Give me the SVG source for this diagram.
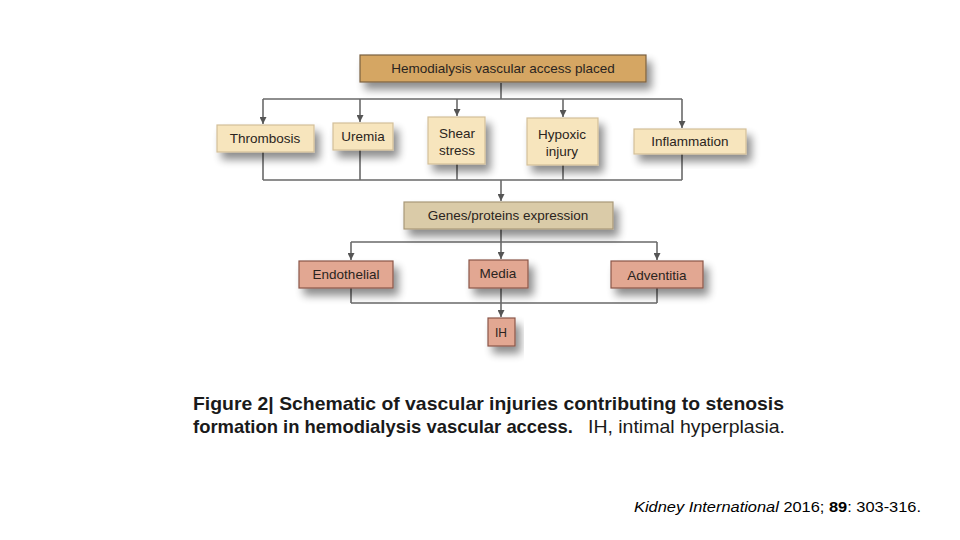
<svg xmlns="http://www.w3.org/2000/svg" width="960" height="540" viewBox="0 0 960 540">
<defs>
<filter id="sh" x="-30%" y="-40%" width="160%" height="200%">
<feGaussianBlur in="SourceAlpha" stdDeviation="4"/>
<feOffset dx="5" dy="7" result="b"/>
<feComponentTransfer><feFuncA type="linear" slope="0.45"/></feComponentTransfer>
<feMerge><feMergeNode/><feMergeNode in="SourceGraphic"/></feMerge>
</filter>
<marker id="ar" markerUnits="userSpaceOnUse" markerWidth="7" markerHeight="7" refX="3" refY="6" orient="0" viewBox="0 0 6 6">
<path d="M0,0 L6,0 L3,6 Z" fill="#555"/>
</marker>
</defs>
<style>
.l1{fill:#d5a664;stroke:#7a6040;stroke-width:1.2}
.l2{fill:#f7e5bd;stroke:#d2bf98;stroke-width:1.2}
.l3{fill:#dacba8;stroke:#a89878;stroke-width:1.2}
.l4{fill:#e2a792;stroke:#8a5548;stroke-width:1.2}
.t{font-family:"Liberation Sans",Arial,sans-serif;font-size:13.5px;fill:#2a2420;text-anchor:middle}
.c{fill:none;stroke:#6a6a6a;stroke-width:1.6}
.cap{font-family:"Liberation Sans",Arial,sans-serif;font-size:18.5px;fill:#1a1a1a}
</style>
<rect width="960" height="540" fill="#ffffff"/>
<g id="connectors">
<path class="c" d="M501,83 V99 M263,99 H682"/>
<path class="c" d="M263,99 V124" marker-end="url(#ar)"/>
<path class="c" d="M360,99 V122" marker-end="url(#ar)"/>
<path class="c" d="M457,99 V116" marker-end="url(#ar)"/>
<path class="c" d="M563,99 V117" marker-end="url(#ar)"/>
<path class="c" d="M682,99 V128" marker-end="url(#ar)"/>
<path class="c" d="M263,152 V180 M360,150 V180 M457,164 V180 M563,165 V180 M682,154 V180 M263,180 H682"/>
<path class="c" d="M501,180 V201" marker-end="url(#ar)"/>
<path class="c" d="M501,229 V242 M351,242 H657"/>
<path class="c" d="M351,242 V260" marker-end="url(#ar)"/>
<path class="c" d="M501,242 V259" marker-end="url(#ar)"/>
<path class="c" d="M657,242 V260" marker-end="url(#ar)"/>
<path class="c" d="M351,288 V303 M657,288 V303 M351,303 H657"/>
<path class="c" d="M501,288 V317" marker-end="url(#ar)"/>
</g>
<g id="n-access"><rect class="l1" x="360" y="55" width="286" height="27" filter="url(#sh)"/><text class="t" x="503" y="73">Hemodialysis vascular access placed</text></g>
<g id="n-thrombosis"><rect class="l2" x="217" y="125" width="97" height="27" filter="url(#sh)"/><text class="t" x="265" y="143">Thrombosis</text></g>
<g id="n-uremia"><rect class="l2" x="333" y="123" width="60" height="27" filter="url(#sh)"/><text class="t" x="363" y="141">Uremia</text></g>
<g id="n-shear"><rect class="l2" x="428" y="117" width="57" height="47" filter="url(#sh)"/><text class="t" x="457" y="138">Shear</text><text class="t" x="457" y="155">stress</text></g>
<g id="n-hypoxic"><rect class="l2" x="527" y="118" width="71" height="47" filter="url(#sh)"/><text class="t" x="562" y="139">Hypoxic</text><text class="t" x="562" y="156">injury</text></g>
<g id="n-inflammation"><rect class="l2" x="634" y="129" width="112" height="25" filter="url(#sh)"/><text class="t" x="690" y="146">Inflammation</text></g>
<g id="n-genes"><rect class="l3" x="404" y="202" width="209" height="27" filter="url(#sh)"/><text class="t" x="508" y="220">Genes/proteins expression</text></g>
<g id="n-endothelial"><rect class="l4" x="299" y="261" width="94" height="27" filter="url(#sh)"/><text class="t" x="346" y="279">Endothelial</text></g>
<g id="n-media"><rect class="l4" x="469" y="260" width="59" height="28" filter="url(#sh)"/><text class="t" x="498" y="278">Media</text></g>
<g id="n-adventitia"><rect class="l4" x="611" y="261" width="92" height="27" filter="url(#sh)"/><text class="t" x="657" y="280">Adventitia</text></g>
<g id="n-ih"><rect class="l4" x="488" y="318" width="27" height="28" filter="url(#sh)"/><text class="t" x="501" y="337" style="font-size:12px">IH</text></g>
<text class="cap" x="193" y="410" font-weight="bold" textLength="591" lengthAdjust="spacingAndGlyphs">Figure 2| Schematic of vascular injuries contributing to stenosis</text>
<text class="cap" x="193" y="433" font-weight="bold" textLength="380" lengthAdjust="spacingAndGlyphs">formation in hemodialysis vascular access.</text>
<text class="cap" x="588" y="433" textLength="197" lengthAdjust="spacingAndGlyphs">IH, intimal hyperplasia.</text>
<text x="634" y="512" font-family="'Liberation Sans',Arial,sans-serif" font-size="15" fill="#000" textLength="287" lengthAdjust="spacingAndGlyphs"><tspan font-style="italic">Kidney International</tspan> 2016; <tspan font-weight="bold">89</tspan>: 303-316.</text>
</svg>
